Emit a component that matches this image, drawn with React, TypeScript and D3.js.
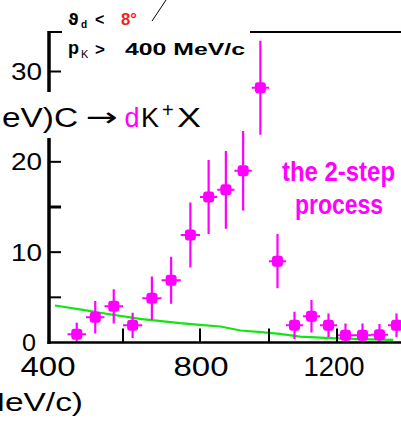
import React from "react";
import * as d3 from "d3";

// Kaon momentum bin centres (MeV/c) and measured counts with statistical errors
const momentum = [475, 525, 575, 625, 675, 725, 775, 825, 875, 925, 975, 1025, 1075, 1125, 1175, 1225, 1275, 1325, 1375];
const counts = [0.9, 2.8, 4.0, 1.9, 4.9, 6.9, 11.9, 16.1, 16.9, 19.0, 28.2, 9.0, 1.9, 2.9, 1.9, 0.8, 0.8, 0.85, 1.9];
const errors = [1.3, 1.8, 1.9, 1.4, 2.4, 2.6, 3.6, 4.1, 4.3, 4.4, 5.2, 3.0, 1.5, 1.8, 1.3, 1.3, 1.3, 1.2, 1.3];
const binHalfWidth = 25;

// Background (one-step) estimate
const bgMomentum = [416, 492, 538, 644, 748, 800, 859, 918, 977, 1032, 1091, 1180, 1268, 1365];
const bgCounts = [4.1, 3.62, 3.29, 2.62, 2.14, 1.96, 1.77, 1.33, 1.14, 0.96, 0.66, 0.48, 0.37, 0.3];

const xTickValues = [600, 800, 1000, 1200];
const xTickLabels = [400, 800, 1200];
const yTickValues = [5, 10, 15, 20, 25, 30];
const yTickLabels = [0, 10, 20, 30];

const MAGENTA = "#ff00ff";
const GREEN = "#11e611";
const FONT = "'Liberation Sans', Arial, Helvetica, sans-serif";

export default function App() {
  React.useEffect(() => {
    document.body.style.margin = "0";
  }, []);

  const x = d3
    .scaleLinear()
    .domain([400, 600, 800, 1000, 1200, 1400])
    .range([49, 123, 200, 269, 337, 405]);
  const y = d3.scaleLinear().domain([0, 30]).range([342.5, 71.5]);

  const x0 = x(400);
  const yBase = y(0);
  const yTop = 31;

  const bgLine = d3
    .line<number>()
    .x((_, i) => x(bgMomentum[i]))
    .y((d) => y(d))
    .curve(d3.curveLinear)(bgCounts) as string;

  // label widths for the stretched axis font
  const xLabelWidth = (v: number) => (String(v).length === 4 ? 61 : 55);
  const yLabelWidth = (v: number) => (String(v).length === 2 ? 31 : 14);

  return (
    <svg width={401} height={421} style={{ display: "block", position: "absolute", left: 0, top: 0 }} fontFamily={FONT}>
      <rect width={401} height={421} fill="#fff" />
      <defs>
        <clipPath id="plot">
          <rect x={x0} y={yTop} width={401 - x0} height={yBase - yTop} />
        </clipPath>
      </defs>

      {/* background curve */}
      <path d={bgLine} fill="none" stroke={GREEN} strokeWidth={2.2} clipPath="url(#plot)" />

      {/* data points with error bars */}
      <g clipPath="url(#plot)">
        {momentum.map((m, i) => {
          const cx = x(m);
          const cy = y(counts[i]);
          const lo = Math.max(0, counts[i] - errors[i]);
          const hi = counts[i] + errors[i];
          return (
            <g key={m}>
              <line x1={cx} x2={cx} y1={y(lo)} y2={y(hi)} stroke={MAGENTA} strokeWidth={2.2} />
              <line x1={x(m - binHalfWidth)} x2={x(m + binHalfWidth)} y1={cy} y2={cy} stroke={MAGENTA} strokeWidth={2} />
              <rect x={cx - 5.5} y={cy - 5.5} width={11} height={11} rx={3} fill={MAGENTA} />
            </g>
          );
        })}
      </g>

      {/* axes */}
      <line x1={x0} x2={x0} y1={yTop} y2={yBase + 1.5} stroke="#000" strokeWidth={3.5} />
      <line x1={x0 - 1.5} x2={401} y1={yBase} y2={yBase} stroke="#000" strokeWidth={2.5} />
      <line x1={x0} x2={62} y1={32} y2={32} stroke="#000" strokeWidth={2} />
      <line x1={250} x2={401} y1={32} y2={32} stroke="#000" strokeWidth={2} />

      {yTickValues.map((v) => (
        <line key={v} x1={x0} x2={x0 + 12} y1={y(v)} y2={y(v)} stroke="#000" strokeWidth={v === 15 ? 3 : 2} />
      ))}
      {xTickValues.map((v) => (
        <line key={v} x1={x(v)} x2={x(v)} y1={yBase} y2={yBase - 14} stroke="#000" strokeWidth={2} />
      ))}

      {yTickLabels.map((v) => (
        <text
          key={v}
          x={(v === 0 ? 36 : 42) - yLabelWidth(v)}
          y={v === 0 ? 351 : y(v) + 8.5}
          fontSize={24}
          fill="#000"
          textLength={yLabelWidth(v)}
          lengthAdjust="spacingAndGlyphs"
        >
          {v}
        </text>
      ))}
      {xTickLabels.map((v) => (
        <text
          key={v}
          x={x(v) - xLabelWidth(v) / 2 - (v === 400 ? 1 : v === 800 ? -1 : 3)}
          y={376}
          fontSize={27}
          fill="#000"
          textLength={xLabelWidth(v)}
          lengthAdjust="spacingAndGlyphs"
        >
          {v}
        </text>
      ))}

      {/* axis title */}
      <text x={-34} y={411} fontSize={26} fill="#000" textLength={117} lengthAdjust="spacingAndGlyphs">
        (MeV/c)
      </text>

      {/* reaction */}
      <rect x={0} y={92} width={206} height={46} fill="#fff" />
      <text x={2} y={127} fontSize={27} fill="#000" textLength={76} lengthAdjust="spacingAndGlyphs">
        eV)C
      </text>
      <text x={86} y={126} fontSize={26} fill="#000" fontFamily="'DejaVu Sans', sans-serif" textLength={32} lengthAdjust="spacingAndGlyphs">
        →
      </text>
      <text x={124.5} y={127} fontSize={27} fill={MAGENTA}>
        d
      </text>
      <text x={141} y={127} fontSize={27} fill="#000">
        K
      </text>
      <text x={162} y={117} fontSize={20} fill="#000">
        +
      </text>
      <text x={177} y={127} fontSize={27} fill="#000" textLength={24} lengthAdjust="spacingAndGlyphs">
        X
      </text>

      {/* cuts */}
      <text x={68} y={25} fontSize={16} fontWeight="bold" fill="#000" fontFamily="'DejaVu Sans', sans-serif">
        ϑ
      </text>
      <text x={81} y={28} fontSize={10} fontWeight="bold" fill="#000">
        d
      </text>
      <text x={95} y={25} fontSize={16} fontWeight="bold" fill="#000">
        &lt;
      </text>
      <text x={121} y={25} fontSize={16} fontWeight="bold" fill="#ff1a1a" textLength={16} lengthAdjust="spacingAndGlyphs">
        8°
      </text>
      <line x1={152} y1={21} x2={166} y2={0} stroke="#000" strokeWidth={1} />

      <text x={68} y={54} fontSize={18} fontWeight="bold" fill="#000">
        p
      </text>
      <text x={81} y={58} fontSize={11} fill="#000">
        K
      </text>
      <text x={95} y={55} fontSize={17} fontWeight="bold" fill="#000">
        &gt;
      </text>
      <text x={125} y={55} fontSize={17} fontWeight="bold" fill="#000" textLength={120} lengthAdjust="spacingAndGlyphs">
        400 MeV/c
      </text>

      {/* annotation */}
      <text x={282} y={180.5} fontSize={27} fontWeight="bold" fill={MAGENTA} textLength={113} lengthAdjust="spacingAndGlyphs">
        the 2-step
      </text>
      <text x={295} y={214} fontSize={27} fontWeight="bold" fill={MAGENTA} textLength={88} lengthAdjust="spacingAndGlyphs">
        process
      </text>
    </svg>
  );
}
